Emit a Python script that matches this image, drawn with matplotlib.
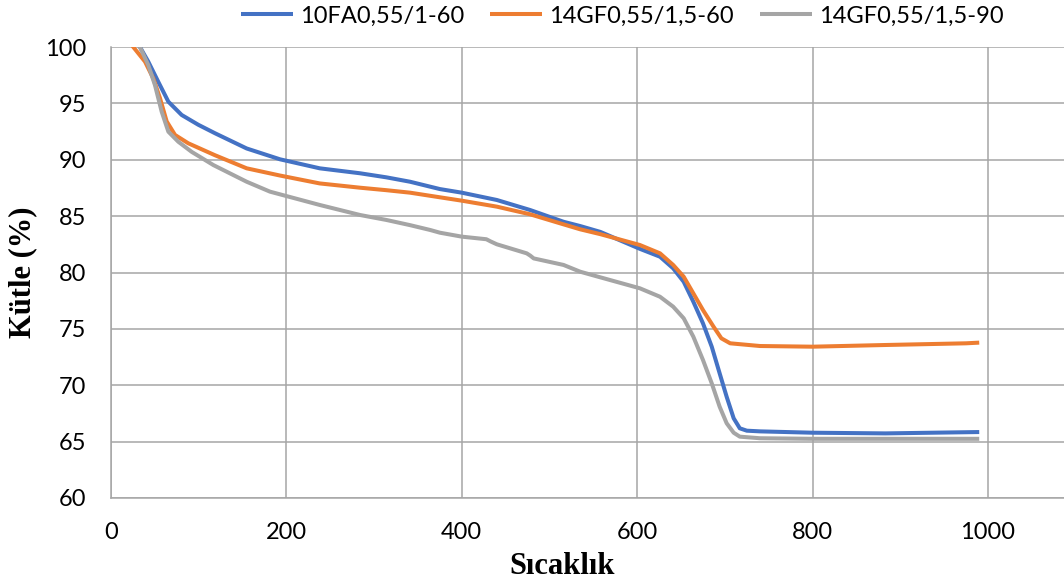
import matplotlib
matplotlib.use("Agg")
import matplotlib.pyplot as plt

# ---- data ----
series_names = ["10FA0,55/1-60", "14GF0,55/1,5-60", "14GF0,55/1,5-90"]

x_fa = [28, 33, 42.5, 54, 65.4, 80.6, 99.6, 118.6, 154.7, 192.7, 238, 284, 314, 341, 375,
        400, 440, 478, 516, 535, 558, 603, 626, 641, 653, 664, 675, 685, 694, 702, 710,
        717, 725, 740, 800, 883, 990]
y_fa = [100.6, 100, 98.7, 96.9, 95.15, 93.97, 93.1, 92.35, 91.0, 90.04, 89.24, 88.8, 88.44, 88.05, 87.4,
        87.08, 86.43, 85.54, 84.5, 84.12, 83.6, 82.1, 81.4, 80.37, 79.18, 77.41, 75.49, 73.42, 71.06, 68.98, 67.07,
        66.18, 65.97, 65.91, 65.79, 65.73, 65.85]

x_gf60 = [20, 25.4, 38.8, 48.3, 55.9, 63.5, 73, 88.1, 118.6, 154.7, 192.7, 238, 284, 314, 341, 375,
          400, 440, 478, 516, 535, 558, 603, 626, 641, 653, 664, 675, 687, 696, 706, 740, 800, 883, 975, 990]
y_gf60 = [100.6, 100, 98.7, 97.2, 95.45, 93.4, 92.2, 91.46, 90.4, 89.24, 88.6, 87.9, 87.52, 87.3, 87.08, 86.67,
          86.37, 85.84, 85.16, 84.27, 83.83, 83.4, 82.44, 81.7, 80.67, 79.63, 78.15, 76.67, 75.2, 74.16, 73.72, 73.48,
          73.42, 73.57, 73.72, 73.78]

x_gf90 = [30, 33, 42.5, 50.2, 57.8, 65.4, 76.7, 92, 116.7, 154.7, 181.3, 200, 238, 284, 314, 341, 364, 375,
          400, 428, 433, 440, 474, 478, 482, 516, 535, 558, 603, 626, 641, 653, 664, 675, 685, 694, 702, 710,
          717, 740, 800, 990]
y_gf90 = [100.6, 100, 98.4, 96.6, 94.26, 92.49, 91.6, 90.7, 89.53, 88.05, 87.17, 86.78, 85.99, 85.1, 84.66, 84.2,
          83.77, 83.53, 83.18, 82.95, 82.75, 82.5, 81.7, 81.5, 81.25, 80.67, 80.07, 79.57, 78.6, 77.85, 76.97, 75.94,
          74.31, 72.24, 70.17, 68.1, 66.63, 65.79, 65.44, 65.3, 65.25, 65.25]

x_ticks = [0, 200, 400, 600, 800, 1000]
y_ticks = [60, 65, 70, 75, 80, 85, 90, 95, 100]
x_label = "Sıcaklık"
y_label = "Kütle (%)"

colors = ["#4472C4", "#ED7D31", "#A5A5A5"]

# ---- figure ----
W, H = 1064, 586
fig = plt.figure(figsize=(W / 100, H / 100), dpi=100)
left, right, top, bottom = 111, 1064, 47, 498
ax = fig.add_axes([left / W, 1 - bottom / H, (right - left) / W, (bottom - top) / H])

xs = [x_fa, x_gf60, x_gf90]
ys = [y_fa, y_gf60, y_gf90]
for xv, yv, c, n in zip(xs, ys, colors, series_names):
    ax.plot(xv, yv, color=c, lw=2.9, label=n, solid_capstyle="butt", solid_joinstyle="round")

ax.set_xlim(0, (right - left) / 0.877)
ax.set_ylim(60, 100)
ax.set_xticks(x_ticks)
ax.set_yticks(y_ticks)
ax.grid(True, color="#A6A6A6", lw=1.1)
ax.set_axisbelow(True)
for s in ["top", "right"]:
    ax.spines[s].set_visible(False)
for s in ["left", "bottom"]:
    ax.spines[s].set_color("#A6A6A6")
    ax.spines[s].set_linewidth(1.1)
ax.tick_params(length=0, labelsize=17)
for lab in ax.get_xticklabels() + ax.get_yticklabels():
    lab.set_family("Lato")
ax.tick_params(axis="x", pad=17)
ax.tick_params(axis="y", pad=18)

fig.text(562 / W, 1 - 566 / H, x_label, ha="center", va="center",
         family="Liberation Serif", fontweight="bold", fontsize=22)
fig.text(23 / W, 1 - 272 / H, y_label, ha="center", va="center", rotation=90,
         family="Liberation Serif", fontweight="bold", fontsize=22)

leg = fig.legend(loc="center", bbox_to_anchor=(622 / W, 1 - 16 / H), ncol=3, frameon=False,
                 prop={"family": "Lato", "size": 17}, handlelength=2.2, handletextpad=0.3,
                 columnspacing=1.1, borderaxespad=0)

fig.savefig("out.png", dpi=100, facecolor="white")
